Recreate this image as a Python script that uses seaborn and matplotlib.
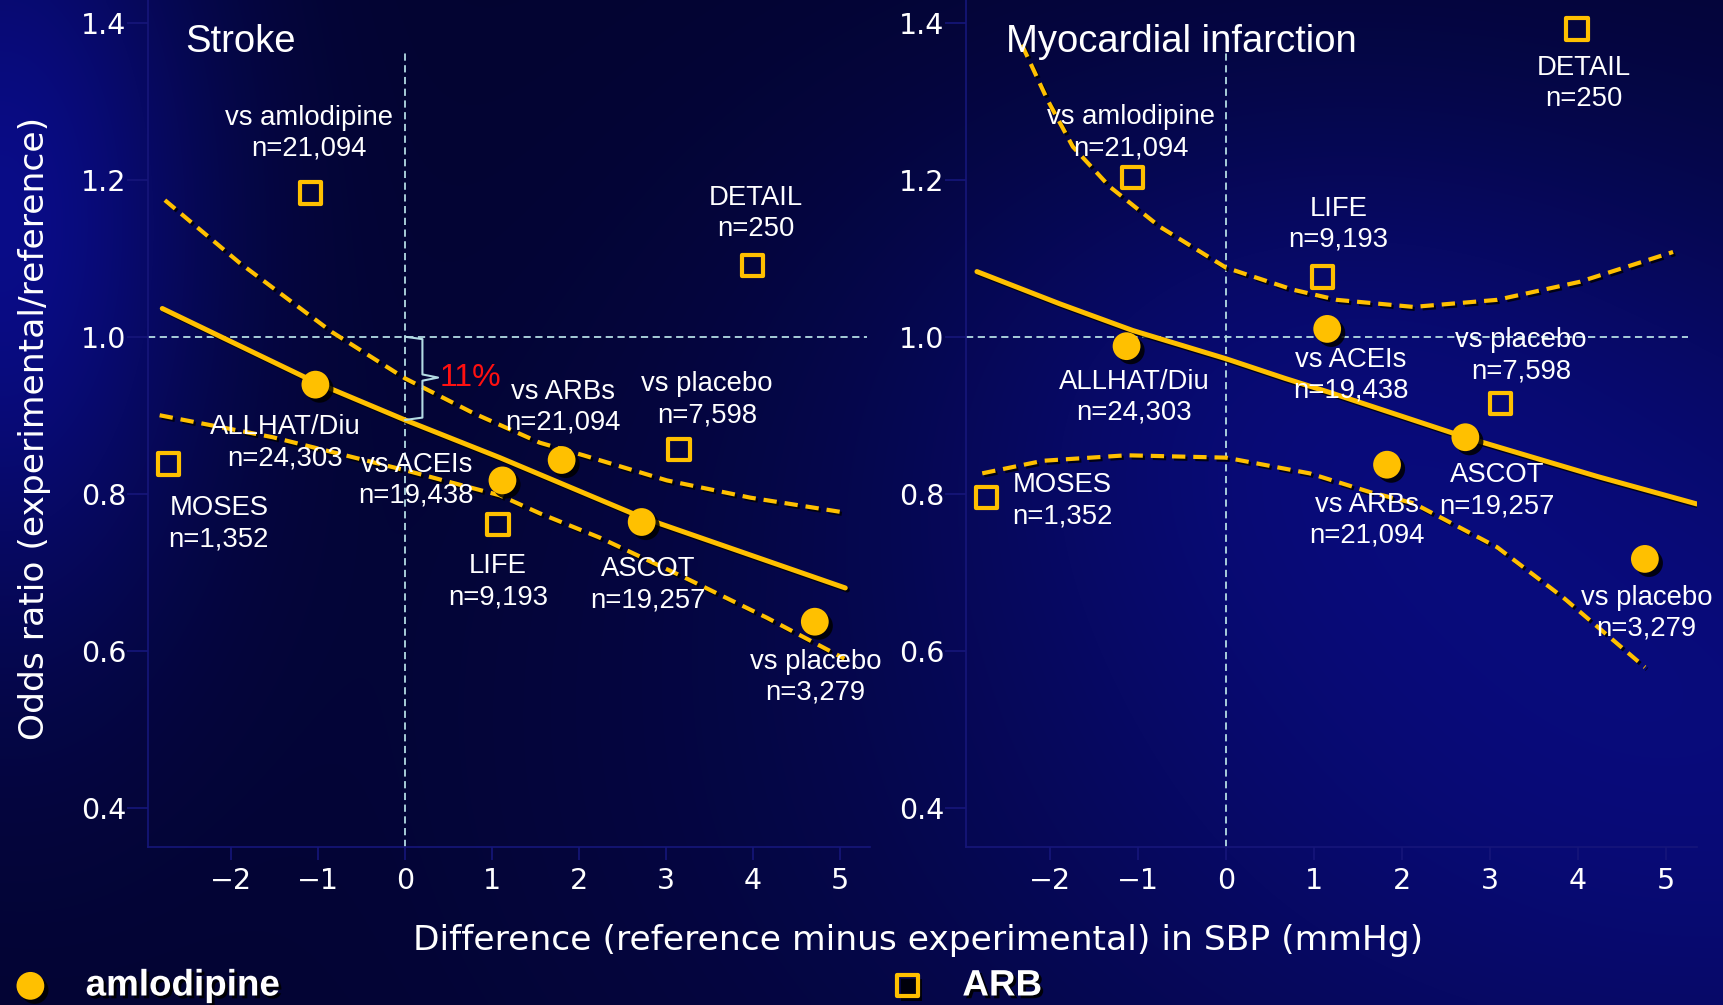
import numpy as np
import pandas as pd
import matplotlib
matplotlib.use("Agg")
import matplotlib.pyplot as plt
import matplotlib.patheffects as pe
from matplotlib.ticker import FormatStrFormatter
import seaborn as sns

# ---------------- data ----------------
xticks = [-2, -1, 0, 1, 2, 3, 4, 5]
yticks = [0.4, 0.6, 0.8, 1.0, 1.2, 1.4]
panel_titles = ["Stroke", "Myocardial infarction"]

# Stroke panel
stroke_amlo_names = ["ALLHAT/Diu\nn=24,303", "vs ACEIs\nn=19,438", "vs ARBs\nn=21,094",
                     "ASCOT\nn=19,257", "vs placebo\nn=3,279"]
stroke_amlo_x = [-1.03, 1.12, 1.80, 2.72, 4.71]
stroke_amlo_y = [0.939, 0.817, 0.843, 0.764, 0.637]
stroke_arb_names = ["vs amlodipine\nn=21,094", "MOSES\nn=1,352", "LIFE\nn=9,193",
                    "vs placebo\nn=7,598", "DETAIL\nn=250"]
stroke_arb_x = [-1.09, -2.72, 1.07, 3.15, 3.99]
stroke_arb_y = [1.183, 0.838, 0.761, 0.856, 1.091]
stroke_fit_x = [-2.79, -1.03, 0.0, 1.09, 2.72, 5.06]
stroke_fit_y = [1.036, 0.942, 0.894, 0.846, 0.770, 0.680]
stroke_upper_x = [-2.76, -1.90, -0.84, 0.0, 0.78, 1.55, 2.05, 3.01, 3.97, 5.00]
stroke_upper_y = [1.174, 1.094, 1.006, 0.947, 0.903, 0.865, 0.849, 0.817, 0.795, 0.777]
stroke_lower_x = [-2.82, -1.52, 0.0, 1.09, 1.55, 2.24, 3.20, 4.16, 5.05]
stroke_lower_y = [0.900, 0.872, 0.830, 0.798, 0.775, 0.744, 0.694, 0.642, 0.590]
stroke_reduction_label = "11%"

# Myocardial infarction panel
mi_amlo_names = ["ALLHAT/Diu\nn=24,303", "vs ACEIs\nn=19,438", "vs ARBs\nn=21,094",
                 "ASCOT\nn=19,257", "vs placebo\nn=3,279"]
mi_amlo_x = [-1.13, 1.15, 1.83, 2.72, 4.76]
mi_amlo_y = [0.988, 1.010, 0.837, 0.872, 0.717]
mi_arb_names = ["vs amlodipine\nn=21,094", "MOSES\nn=1,352", "LIFE\nn=9,193",
                "vs placebo\nn=7,598", "DETAIL\nn=250"]
mi_arb_x = [-1.06, -2.72, 1.10, 3.12, 3.99]
mi_arb_y = [1.203, 0.795, 1.076, 0.915, 1.392]
mi_fit_x = [-2.83, -1.89, -1.06, 0.0, 0.67, 1.18, 2.72, 4.22, 5.35]
mi_fit_y = [1.083, 1.042, 1.008, 0.972, 0.947, 0.929, 0.872, 0.822, 0.787]
mi_upper_x = [-2.32, -2.03, -1.74, -1.32, -0.75, 0.0, 0.76, 1.26, 2.13, 3.08, 4.02, 5.08]
mi_upper_y = [1.372, 1.302, 1.242, 1.191, 1.140, 1.088, 1.060, 1.047, 1.038, 1.047, 1.070, 1.108]
mi_lower_x = [-2.77, -2.08, -1.13, 0.0, 0.95, 1.64, 2.13, 3.08, 3.83, 4.76]
mi_lower_y = [0.826, 0.842, 0.849, 0.846, 0.826, 0.802, 0.788, 0.732, 0.668, 0.579]

legend_labels = ["amlodipine", "ARB"]
xlabel = "Difference (reference minus experimental) in SBP (mmHg)"
ylabel = "Odds ratio (experimental/reference)"

# ---------------- label placement (text centres, data units) ----------------
stroke_amlo_lblpos = [(-1.38, 0.865), (0.13, 0.817), (1.82, 0.910), (2.79, 0.684), (4.72, 0.566)]
stroke_arb_lblpos = [(-1.10, 1.259), (-2.14, 0.762), (1.07, 0.688), (3.47, 0.920), (4.03, 1.157)]
mi_amlo_lblpos = [(-1.04, 0.923), (1.42, 0.951), (1.60, 0.766), (3.08, 0.804), (4.78, 0.648)]
mi_arb_lblpos = [(-1.08, 1.260), (-1.86, 0.791), (1.28, 1.143), (3.35, 0.976), (4.07, 1.322)]
title_pos = [(-2.53, 1.376), (-2.50, 1.376)]

# ---------------- style ----------------
YELLOW = "#FFC000"
REF = "#b4dce4"
NAVY = "#16167a"
sns.set_theme(style="dark")
plt.rcParams["font.family"] = ["Liberation Sans", "DejaVu Sans"]
plt.rcParams["axes.unicode_minus"] = True
AXFONT = ["DejaVu Sans"]

W_PX, H_PX = 1724, 1005
fig = plt.figure(figsize=(W_PX / 100, H_PX / 100), dpi=100)

# background gradient
bg = fig.add_axes([0, 0, 1, 1], zorder=-10)
yy, xx = np.mgrid[0:1:201j, 0:1:345j]
B = (0.19 + 0.34 * np.exp(-(xx / 0.12) ** 2 - ((yy - 0.22) / 0.42) ** 2)
     + 0.28 * np.exp(-((xx - 1.0) / 0.5) ** 2 - ((yy - 0.75) / 0.5) ** 2)
     + 0.14 * np.exp(-((xx - 0.75) / 0.25) ** 2 - ((yy - 0.35) / 0.3) ** 2))
B = np.clip(B, 0, 1)
img = np.dstack([0.07 * B, 0.09 * B, B])
bg.imshow(img, aspect="auto", extent=[0, 1, 0, 1], origin="upper", interpolation="bilinear")
bg.set_axis_off()

XLIM = (-2.95, 5.35)
YLIM = (0.35, 1.43)


def px_axes(x0, x1):
    return fig.add_axes([x0 / W_PX, (H_PX - 847) / H_PX, (x1 - x0) / W_PX, 847.8 / H_PX])


ax1 = px_axes(148.35, 870.5)
ax2 = px_axes(966.4, 1696.8)

line_shadow = [pe.SimpleLineShadow(offset=(1.5, -1.5), shadow_color="black", alpha=0.8), pe.Normal()]
mark_shadow = [pe.SimplePatchShadow(offset=(3, -3), shadow_rgbFace="black", alpha=0.85), pe.Normal()]
txt_shadow = [pe.SimplePatchShadow(offset=(2, -2), shadow_rgbFace="black", alpha=0.9), pe.Normal()]


def arr(v):
    return np.asarray(v, dtype=float)


def draw_panel(ax, title, tpos, amlo_x, amlo_y, amlo_names, amlo_pos, arb_x, arb_y, arb_names,
               arb_pos, fit_x, fit_y, up_x, up_y, lo_x, lo_y, hline_end):
    ax.set_facecolor("none")
    ax.set_xlim(*XLIM)
    ax.set_ylim(*YLIM)
    # reference lines
    ax.axvline(0, ymin=0, ymax=(1.363 - YLIM[0]) / (YLIM[1] - YLIM[0]), color=REF, lw=1.3,
               linestyle=(0, (4, 2.5)), zorder=1)
    ax.axhline(1.0, xmin=0, xmax=(hline_end - XLIM[0]) / (XLIM[1] - XLIM[0]), color=REF, lw=1.3,
               linestyle=(0, (4, 2.5)), zorder=1)
    # regression and confidence curves
    sns.lineplot(x=arr(fit_x), y=arr(fit_y), ax=ax, color=YELLOW, lw=3.6, sort=False,
                 estimator=None, zorder=3)
    ax.lines[-1].set_path_effects(line_shadow)
    for cx, cy in ((up_x, up_y), (lo_x, lo_y)):
        sns.lineplot(x=arr(cx), y=arr(cy), ax=ax, color=YELLOW, lw=3.0, sort=False, estimator=None,
                     linestyle=(0, (3.2, 1.9)), zorder=3)
        ax.lines[-1].set_path_effects(line_shadow)
        ax.lines[-1].set_dash_capstyle("butt")
    # markers
    sns.scatterplot(x=arr(amlo_x), y=arr(amlo_y), ax=ax, marker="o", s=400, color=YELLOW,
                    linewidth=0, zorder=5, legend=False)
    c_amlo = ax.collections[-1]
    c_amlo.set_path_effects(mark_shadow)
    sns.scatterplot(x=arr(arb_x), y=arr(arb_y), ax=ax, marker="s", s=235, color=YELLOW,
                    linewidth=3, zorder=5, legend=False)
    c_arb = ax.collections[-1]
    c_arb.set_facecolor("none")
    c_arb.set_edgecolor(YELLOW)
    c_arb.set_linewidth(3.0)
    # labels
    for names, pos in ((amlo_names, amlo_pos), (arb_names, arb_pos)):
        for name, (tx, ty) in zip(names, pos):
            ax.text(tx, ty, name, color="white", fontsize=19.8, ha="center", va="center",
                    linespacing=1.25, zorder=6)
    ax.text(tpos[0], tpos[1], title, color="white", fontsize=27.5, ha="left", va="center", zorder=6)
    # axes styling
    ax.set_xticks(xticks)
    ax.set_yticks(yticks)
    ax.yaxis.set_major_formatter(FormatStrFormatter("%.1f"))
    ax.grid(False)
    for s in ("top", "right"):
        ax.spines[s].set_visible(False)
    for s in ("left", "bottom"):
        ax.spines[s].set_visible(True)
        ax.spines[s].set_color(NAVY)
        ax.spines[s].set_linewidth(1.2)
    ax.tick_params(axis="y", direction="out", length=15, width=1.2, color=NAVY, pad=1,
                   labelcolor="white", labelsize=20.5, left=True)
    ax.tick_params(axis="x", direction="out", length=9.5, width=1.2, color=NAVY, pad=5,
                   labelcolor="white", labelsize=20.5, bottom=True)
    for lab in ax.get_xticklabels() + ax.get_yticklabels():
        lab.set_fontfamily(AXFONT)
    ax.set_xlabel("")
    ax.set_ylabel("")
    return c_amlo, c_arb


h1, h2 = draw_panel(ax1, panel_titles[0], title_pos[0], stroke_amlo_x, stroke_amlo_y,
                    stroke_amlo_names, stroke_amlo_lblpos, stroke_arb_x, stroke_arb_y,
                    stroke_arb_names, stroke_arb_lblpos, stroke_fit_x, stroke_fit_y,
                    stroke_upper_x, stroke_upper_y, stroke_lower_x, stroke_lower_y, 5.31)
draw_panel(ax2, panel_titles[1], title_pos[1], mi_amlo_x, mi_amlo_y, mi_amlo_names,
           mi_amlo_lblpos, mi_arb_x, mi_arb_y, mi_arb_names, mi_arb_lblpos, mi_fit_x, mi_fit_y,
           mi_upper_x, mi_upper_y, mi_lower_x, mi_lower_y, 5.25)

# 11% bracket on the stroke panel: from OR=1.0 down to the fitted value at 0
y0 = stroke_fit_y[stroke_fit_x.index(0.0)]
ymid = (1.0 + y0) / 2 + 0.001
ax1.plot([0, 0.2, 0.2, 0.38, 0.2, 0.2, 0],
         [1.0, 0.997, ymid + 0.004, ymid, ymid - 0.004, y0 + 0.003, y0],
         color=REF, lw=1.5, zorder=4)
ax1.text(0.40, ymid, stroke_reduction_label, color="#ff1010", fontsize=23, ha="left", va="center",
         zorder=6)

# axis titles
fig.text(918 / W_PX, 1 - 940 / H_PX, xlabel, color="white", fontsize=24.8, ha="center",
         va="center", family=AXFONT)
fig.text(35 / W_PX, 1 - 428 / H_PX, ylabel, color="white", fontsize=24.8, ha="center",
         va="center", rotation=90, family=AXFONT)

# legend
leg = fig.legend([h1, h2], legend_labels, loc="center left", bbox_to_anchor=(12 / W_PX, 19 / H_PX),
                 ncol=2, frameon=False, borderpad=0, borderaxespad=0, handlelength=1.0,
                 handletextpad=1.0, columnspacing=16.55, scatterpoints=1,
                 prop=dict(family="Liberation Sans", weight="bold", size=26.5))
for t in leg.get_texts():
    t.set_color("white")
    t.set_path_effects(txt_shadow)
for lh in leg.legend_handles:
    lh.set_path_effects(mark_shadow)

fig.savefig("out.png", dpi=100)
